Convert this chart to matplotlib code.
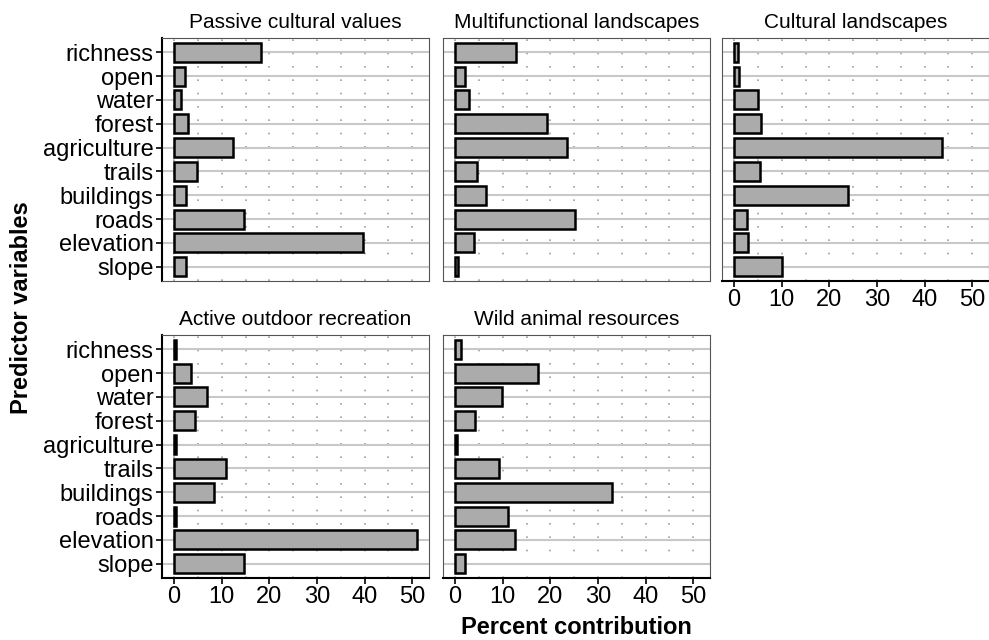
import numpy as np
import matplotlib
matplotlib.use("Agg")
import matplotlib.pyplot as plt

plt.rcParams['font.family'] = ['Liberation Sans', 'DejaVu Sans']

predictors = ['richness', 'open', 'water', 'forest', 'agriculture',
              'trails', 'buildings', 'roads', 'elevation', 'slope']

panel_titles = ['Passive cultural values', 'Multifunctional landscapes',
                'Cultural landscapes', 'Active outdoor recreation',
                'Wild animal resources']

passive = [18.2, 2.2, 1.5, 2.9, 12.4, 4.7, 2.4, 14.6, 39.6, 2.4]
multifunctional = [12.8, 2.0, 3.0, 19.4, 23.4, 4.5, 6.4, 25.2, 4.0, 0.7]
cultural = [0.9, 1.1, 5.1, 5.6, 43.7, 5.4, 24.0, 2.8, 2.9, 10.0]
active = [0.4, 3.5, 7.0, 4.4, 0.4, 10.9, 8.4, 0.4, 51.0, 14.7]
wild = [1.3, 17.5, 9.8, 4.1, 0.4, 9.2, 33.0, 11.2, 12.6, 2.1]

series = [passive, multifunctional, cultural, active, wild]

W, H = 989, 640
fig = plt.figure(figsize=(W / 100, H / 100), dpi=100)

# panel boxes in pixels: left, top
boxes = [(162, 38), (443, 38), (722, 38), (162, 335), (443, 335)]
pw, ph = 267, 243
show_y = [True, False, False, True, False]
show_x = [False, False, True, True, True]

xmax = 51.0
for i, (vals, title) in enumerate(zip(series, panel_titles)):
    left, top = boxes[i]
    ax = fig.add_axes([left / W, 1 - (top + ph) / H, pw / W, ph / H])
    ax.set_axisbelow(True)
    ax.barh(predictors, vals, height=0.8, color='#ababab',
            edgecolor='black', linewidth=1.8, zorder=3)
    ax.set_ylim(9.6, -0.6)
    ax.set_xlim(-0.05 * xmax, xmax * 1.05)
    ax.set_xticks([0, 10, 20, 30, 40, 50])
    ax.set_xticks(np.arange(5, 51, 10), minor=True)
    ax.grid(axis='y', color='#c8c8c8', linewidth=1.5, linestyle='-')
    ax.grid(axis='x', which='both', color='#a0a0a0', linewidth=1.2,
            linestyle=(0, (1, 7)))
    for s in ax.spines.values():
        s.set_color('#555555')
        s.set_linewidth(0.8)
    ax.tick_params(axis='both', which='major', labelsize=17,
                   length=4, width=1.2, color='black', pad=2)
    ax.tick_params(axis='x', which='minor', length=0)
    if show_y[i]:
        ax.spines['left'].set_color('black')
        ax.spines['left'].set_linewidth(1.5)
    else:
        ax.tick_params(axis='y', left=False, labelleft=False)
    if show_x[i]:
        ax.spines['bottom'].set_color('black')
        ax.spines['bottom'].set_linewidth(1.5)
    else:
        ax.tick_params(axis='x', bottom=False, labelbottom=False)
    ax.set_title(title, fontsize=15, pad=7)

fig.text(22 / W, 1 - 308 / H, 'Predictor variables', rotation=90,
         fontsize=17, fontweight='bold', ha='center', va='center')
fig.text(576 / W, 1 - 627 / H, 'Percent contribution',
         fontsize=17, fontweight='bold', ha='center', va='center')

fig.savefig('out.png', dpi=100)
